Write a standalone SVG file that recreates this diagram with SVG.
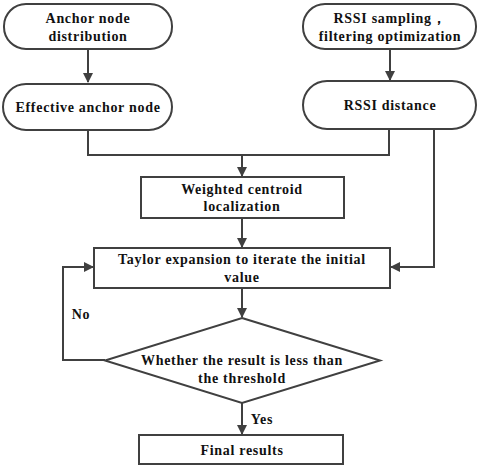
<svg xmlns="http://www.w3.org/2000/svg" width="480" height="469" viewBox="0 0 480 469">
<style>
.n{fill:#fff;stroke:#404040;stroke-width:2}
.t{font-family:"Liberation Serif",serif;font-weight:bold;font-size:14px;fill:#111;text-anchor:middle;letter-spacing:0.7px}
.c{fill:none;stroke:#404040;stroke-width:2}
</style>
<defs>
<marker id="a" markerWidth="10" markerHeight="10" refX="9" refY="5" orient="auto" markerUnits="userSpaceOnUse">
<path d="M0,0 L10,5 L0,10 z" fill="#404040"/>
</marker>
</defs>
<rect width="480" height="469" fill="#fff"/>
<g id="connectors">
<path class="c" d="M88,49 V82" marker-end="url(#a)"/>
<path class="c" d="M390,49 V80" marker-end="url(#a)"/>
<path class="c" d="M88,130 V155 H389 V129"/>
<path class="c" d="M242,155 V176" marker-end="url(#a)"/>
<path class="c" d="M242,218 V247" marker-end="url(#a)"/>
<path class="c" d="M434,129 V267 H391" marker-end="url(#a)"/>
<path class="c" d="M242,288 V317" marker-end="url(#a)"/>
<path class="c" d="M105,360 H63 V267 H93" marker-end="url(#a)"/>
<path class="c" d="M242,403 V434" marker-end="url(#a)"/>
<text class="t" x="81" y="319">No</text>
<text class="t" x="262" y="424">Yes</text>
</g>
<g id="n1"><rect class="n" x="4" y="4" width="168" height="45" rx="22"/><text class="t" x="88" y="23">Anchor node</text><text class="t" x="88" y="41">distribution</text></g>
<g id="n2"><rect class="n" x="3" y="84" width="169" height="46" rx="23"/><text class="t" x="88" y="112">Effective anchor node</text></g>
<g id="n3"><rect class="n" x="303" y="4" width="173" height="45" rx="22"/><text class="t" x="390" y="23">RSSI sampling，</text><text class="t" x="390" y="41">filtering optimization</text></g>
<g id="n4"><rect class="n" x="303" y="81" width="173" height="48" rx="24"/><text class="t" x="390" y="110">RSSI distance</text></g>
<g id="n5"><rect class="n" x="141" y="177" width="203" height="41"/><text class="t" x="242" y="194">Weighted centroid</text><text class="t" x="242" y="211">localization</text></g>
<g id="n6"><rect class="n" x="94" y="248" width="296" height="40"/><text class="t" x="242" y="264">Taylor expansion to iterate the initial</text><text class="t" x="242" y="282">value</text></g>
<g id="n7"><path class="n" d="M242,318 L380,360.5 L242,403 L105,360.5 z"/><text class="t" x="242" y="365">Whether the result is less than</text><text class="t" x="242" y="383">the threshold</text></g>
<g id="n8"><rect class="n" x="139" y="435" width="204" height="29"/><text class="t" x="242" y="455">Final results</text></g>
</svg>
